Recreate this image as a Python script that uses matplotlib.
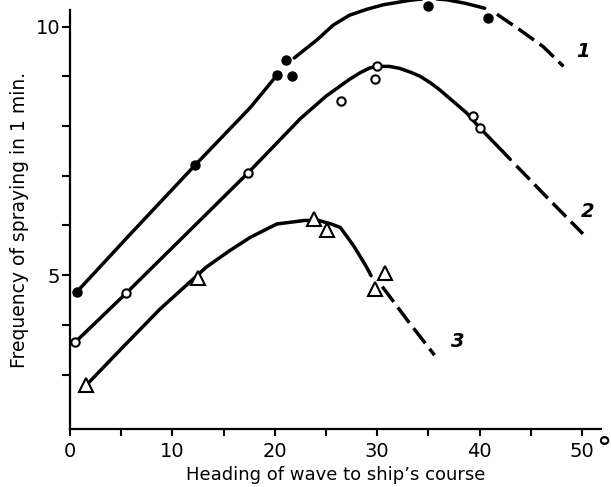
import matplotlib
matplotlib.use("Agg")
import numpy as np
import matplotlib.pyplot as plt
from matplotlib.ticker import FixedLocator

nan = np.nan

# curve 1 (filled circles)
c1_solid_x = [0.65, 6.0, 12.2, 17.6, 20.2, nan, 21.9, 24.1, 25.7, 27.3, 29.0, 30.6, 33.2, 35.0, 36.8, 38.6, 40.5]
c1_solid_y = [4.66, 5.85, 7.21, 8.37, 9.02, nan, 9.37, 9.73, 10.03, 10.23, 10.35, 10.44, 10.53, 10.57, 10.54, 10.47, 10.37]
c1_dash_x = [41.7, 43.9, 46.2, 48.2]
c1_dash_y = [10.25, 9.94, 9.6, 9.2]
c1_pts_x = [0.65, 12.2, 20.2, 21.1, 21.7, 35.0, 40.8]
c1_pts_y = [4.66, 7.21, 9.02, 9.32, 9.0, 10.42, 10.17]

# curve 2 (open circles)
c2_solid_x = [0.5, 5.5, 11.5, 17.4, 22.5, 25.0, 27.3, 28.4, 29.3, 30.0, 31.2, 32.2, 33.3, 34.2, 35.2,
              36.1, 38.7, 40.0, 41.5, 43.0]
c2_solid_y = [3.65, 4.64, 5.86, 7.06, 8.15, 8.6, 8.94, 9.08, 9.17, 9.2, 9.2, 9.16, 9.08, 9.0, 8.87,
              8.73, 8.27, 7.97, 7.65, 7.33]
c2_dash_x = [43.6, 46.8, 50.1]
c2_dash_y = [7.2, 6.52, 5.83]
c2_pts_x = [0.5, 5.5, 17.4, 26.5, 29.8, 29.95, 39.4, 40.0]
c2_pts_y = [3.65, 4.64, 7.06, 8.51, 8.94, 9.2, 8.2, 7.97]

# curve 3 (triangles)
c3_solid_x = [1.6, 5.2, 8.8, 11.7, 13.3, 15.5, 17.6, 20.2, 22.9, 24.3, 25.5, 26.4, 27.0, 27.7, 28.3, 29.0, 29.4]
c3_solid_y = [2.79, 3.56, 4.32, 4.86, 5.16, 5.48, 5.76, 6.03, 6.1, 6.1, 6.03, 5.96, 5.79, 5.59, 5.39, 5.15, 4.99]
c3_dash_x = [30.5, 33.0, 35.6]
c3_dash_y = [4.77, 4.08, 3.39]
c3_pts_x = [1.6, 12.5, 23.8, 25.1, 29.8, 30.8]
c3_pts_y = [2.79, 4.95, 6.13, 5.9, 4.72, 5.05]

curve_labels = ["1", "2", "3"]
label_x = [50.1, 50.6, 37.9]
label_y = [9.49, 6.28, 3.66]

fig = plt.figure(figsize=(6.11, 4.87), dpi=100)
ax = fig.add_axes([0.1146, 0.1186, 0.8690, 0.8609])

lw = 2.5
dash = (5.5, 2.0)
for sx, sy, dx, dy in [(c1_solid_x, c1_solid_y, c1_dash_x, c1_dash_y),
                       (c2_solid_x, c2_solid_y, c2_dash_x, c2_dash_y),
                       (c3_solid_x, c3_solid_y, c3_dash_x, c3_dash_y)]:
    ax.plot(sx, sy, color="black", lw=lw, solid_capstyle="round", solid_joinstyle="round",
            clip_on=False, zorder=2)
    ax.plot(dx, dy, color="black", lw=lw, linestyle=(0, dash), dash_capstyle="butt", clip_on=False, zorder=2)

ax.plot(c1_pts_x, c1_pts_y, "o", ms=6.5, color="black", clip_on=False, zorder=3)
ax.plot(c2_pts_x, c2_pts_y, "o", ms=6, mfc="white", mec="black", mew=1.5, clip_on=False, zorder=3)
ax.plot(c3_pts_x, c3_pts_y, "^", ms=10, mfc="white", mec="black", mew=1.5, clip_on=False, zorder=3)

for t, x, y in zip(curve_labels, label_x, label_y):
    ax.text(x, y, t, fontsize=14, fontstyle="italic", fontweight="bold", ha="center", va="center")

ax.set_xlim(0, 51.86)
ax.set_ylim(1.9, 10.335)

ax.spines["top"].set_visible(False)
ax.spines["right"].set_visible(False)
for s in ["left", "bottom"]:
    ax.spines[s].set_linewidth(1.6)

ax.xaxis.set_major_locator(FixedLocator([0, 10, 20, 30, 40, 50]))
ax.xaxis.set_minor_locator(FixedLocator([5, 15, 25, 35, 45]))
ax.yaxis.set_major_locator(FixedLocator([5, 10]))
ax.yaxis.set_minor_locator(FixedLocator([3, 4, 6, 7, 8, 9]))
ax.tick_params(axis="x", which="both", direction="out", length=5, width=1.5, labelsize=14, pad=4)
ax.tick_params(axis="y", which="both", direction="out", length=6, width=1.5, labelsize=14, pad=1)

ax.text(1.006, -0.068, "\u00b0", transform=ax.transAxes, fontsize=22, ha="center", va="baseline")

ax.set_xlabel("Heading of wave to ship\u2019s course", fontsize=13, labelpad=4)
ax.set_ylabel("Frequency of spraying in 1 min.", fontsize=13.5, labelpad=5)

fig.savefig("out.png", dpi=100)
